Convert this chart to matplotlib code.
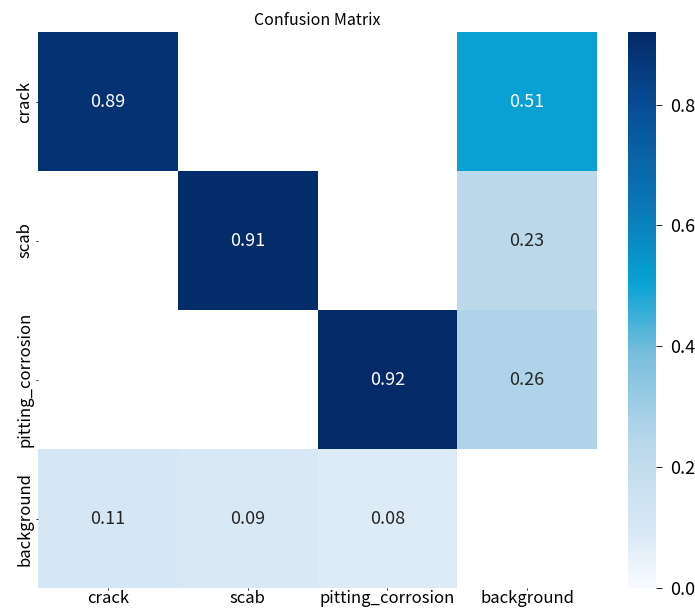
import numpy as np
import matplotlib
matplotlib.use("Agg")
import matplotlib.pyplot as plt
from matplotlib.colors import LinearSegmentedColormap
import seaborn as sns

classes = ["crack", "scab", "pitting_corrosion", "background"]

# rows = predicted, columns = true
row_crack = [0.89, 0.00, 0.00, 0.51]
row_scab = [0.00, 0.91, 0.00, 0.23]
row_pitting = [0.00, 0.00, 0.92, 0.26]
row_background = [0.11, 0.09, 0.08, 0.00]

colorbar_ticks = [0.0, 0.2, 0.4, 0.6, 0.8]

matrix = np.array([row_crack, row_scab, row_pitting, row_background])
vmax = matrix.max()

# blue ramp: white -> pale blue -> cyan -> navy
stops = [
    (0.00, "#f7fbff"),
    (0.10, "#d8e8f5"),
    (0.25, "#bcd9ec"),
    (0.42, "#79bedc"),
    (0.55, "#08a2d2"),
    (0.68, "#0a7ab6"),
    (0.86, "#084f97"),
    (1.00, "#042a68"),
]
cmap = LinearSegmentedColormap.from_list(
    "cm_blues", [(v, c) for v, c in stops])

plt.rcParams["font.family"] = ["Noto Sans CJK SC", "DejaVu Sans"]

fig = plt.figure(figsize=(6.95, 6.10), dpi=100)
ax = fig.add_axes([0.0547, 0.036, 0.8043, 0.9115])
cax = fig.add_axes([0.9036, 0.036, 0.0403, 0.9115])

mask = matrix < 0.005
sns.heatmap(matrix, ax=ax, cbar_ax=cax, cmap=cmap, vmin=0.0, vmax=vmax,
            mask=mask, annot=True, fmt=".2f", square=False,
            annot_kws={"size": 13},
            xticklabels=classes, yticklabels=classes)

ax.set_title("Confusion Matrix", fontsize=11.5, pad=5)
ax.tick_params(axis="x", labelsize=12, length=1.5, width=0.6, pad=0)
ax.tick_params(axis="y", labelsize=12, length=1.5, width=0.6, pad=2)
ax.set_xticklabels(classes, rotation=0)
ax.set_yticklabels(classes, rotation=90, va="center")

cax.set_yticks(colorbar_ticks)
cax.set_yticklabels([f"{t:.1f}" for t in colorbar_ticks])
cax.tick_params(labelsize=13, length=4, width=0.6, pad=6)

fig.savefig("out.png", dpi=100)
